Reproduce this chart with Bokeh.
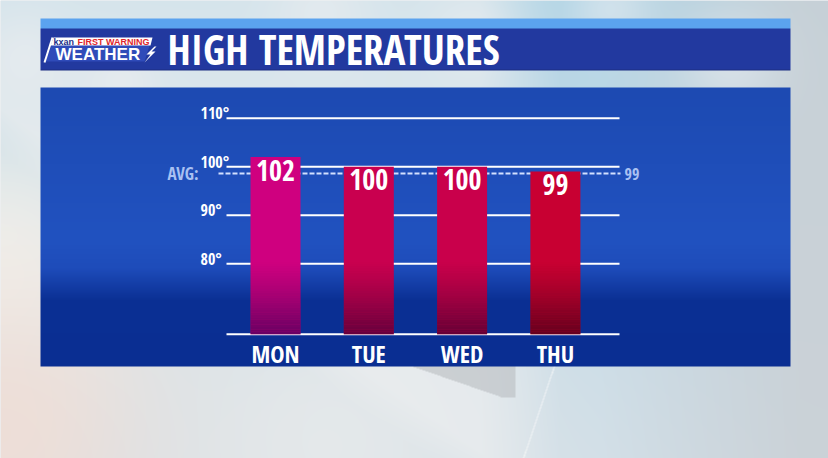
import numpy as np
from bokeh.plotting import figure
from bokeh.models import Range1d, ColumnDataSource
from bokeh.core.properties import value
from bokeh.embed import file_html
from bokeh.resources import INLINE

days = ["MON", "TUE", "WED", "THU"]
highs = [102, 100, 100, 99]
avg_high = 98.6
y_ticks = [80, 90, 100, 110]
tick_labels = ["80°", "90°", "100°", "110°"]
chart_floor = 65.5
title_text = "HIGH TEMPERATURES"
bar_top_colors = ["#cf007f", "#c9004f", "#c9004b", "#c80032"]
bar_shade_colors = ["#2a0050", "#2a0030", "#2a0028", "#2a0010"]

W, H = 828, 458
def X(rx):
    return rx
def Y(ry):
    return H - ry

NARROW = "'Open Sans Condensed', 'Roboto Condensed', Roboto, sans-serif"
BOLD = "'Liberation Sans', Arial, sans-serif"

p = figure(width=W, height=H, output_backend="svg", toolbar_location=None,
           x_range=Range1d(0, W), y_range=Range1d(0, H),
           x_axis_location=None, y_axis_location=None, min_border=0,
           outline_line_color=None)
p.grid.visible = False
p.background_fill_color = "#dde1e6"
p.border_fill_color = "#dde1e6"

p.extra_x_ranges = {"day": Range1d((0 - 275) / 93.3, (W - 275) / 93.3)}
p.extra_y_ranges = {"temp": Range1d(110 - (H - 117.7) / 4.855, 110 + 117.7 / 4.855)}

def mix(img, col, w):
    w = np.clip(w, 0, 1)[..., None]
    return img * (1 - w) + np.array(col, float) * w

def blob(Xg, Yg, cx, cy, r):
    return np.exp(-(((Xg - cx) ** 2 + (Yg - cy) ** 2) / (2.0 * r * r)))

ys = np.arange(0, H) + 0.5
xs = np.arange(0, W) + 0.5
Xg, Yg = np.meshgrid(xs, ys)
img = np.zeros(Xg.shape + (3,))
for c, (a, b, d) in enumerate(zip([176, 212, 229], [190, 216, 230], [208, 222, 231])):
    img[..., c] = np.interp(Yg, [0, 130, 458], [a, b, d])
img = mix(img, (202, 208, 213), np.clip((Xg - 600) / 200, 0, 1) * 0.85)
img = mix(img, (237, 237, 236), blob(Xg, Yg, 330, 430, 140) * 0.7)
img = mix(img, (244, 243, 238), blob(Xg, Yg, 0, 270, 110) * 0.9)
img = mix(img, (240, 222, 214), blob(Xg, Yg, 0, 430, 110) * 0.9)
for cx, cy, r in [(25, 55, 30), (320, 12, 35), (470, 35, 30), (610, 8, 30), (120, 78, 25), (730, 60, 35)]:
    img = mix(img, (232, 236, 241), blob(Xg, Yg, cx, cy, r) * 0.55)
diag = ((Xg - 300) - (Yg - 366) * 1.4)
img = mix(img, (238, 239, 240), np.clip(diag / 60, 0, 1) * np.clip((560 - Xg) / 80, 0, 1) * 0.6)
plate = (Xg < 515) & (Yg > 366) & (Yg < 397) & ((Xg - 412) > (Yg - 366) * 2.9)
img[plate] = img[plate] * 0.4 + np.array([185, 189, 193]) * 0.6
streak = np.abs((Xg - 554) + (Yg - 366) * (31 / 92)) < 0.7
img[streak & (Yg > 366)] = img[streak & (Yg > 366)] * 0.4 + np.array([248, 249, 250]) * 0.6

in_x = (Xg >= 40) & (Xg < 790)
img[in_x & (Yg >= 18) & (Yg < 28.5)] = (91, 163, 239)
img[in_x & (Yg >= 28.5) & (Yg < 70.5)] = (34, 57, 159)
img[in_x & (Yg >= 69) & (Yg < 70.5)] = (28, 46, 130)
pan = in_x & (Yg >= 87) & (Yg < 366.5)
stops_y = [87, 240, 268, 300, 366]
for c, vals in enumerate([[29, 33, 30, 11, 10], [74, 82, 76, 48, 46], [178, 192, 186, 148, 146]]):
    img[..., c] = np.where(pan, np.interp(Yg, stops_y, vals), img[..., c])

rgba = np.empty(Xg.shape + (4,), dtype=np.uint8)
rgba[..., :3] = np.clip(img, 0, 255).astype(np.uint8)
rgba[..., 3] = 255
bg = rgba[::-1].copy().view(dtype=np.uint32).reshape(Xg.shape)
p.image_rgba(image=[bg], x=0, y=0, dw=W, dh=H)

# logo
p.patch([X(51), X(149), X(144), X(45)], [Y(45), Y(45), Y(61), Y(61)],
        fill_color="#3553c4", fill_alpha=0.7, line_color=None)
p.patch([X(53), X(152), X(150), X(50)], [Y(37), Y(37), Y(45), Y(45)],
        fill_color="white", line_color=None)
p.line([X(44), X(52)], [Y(62), Y(37)], line_color="white", line_width=2)
p.text(x=[X(53)], y=[Y(41.5)], text=["kxan"], text_font=value(BOLD), text_font_style="bold",
       text_font_size="9px", text_color="#1b2f8a", text_baseline="middle")
p.text(x=[X(77)], y=[Y(41.5)], text=["FIRST WARNING"], text_font=value(BOLD), text_font_style="bold",
       text_font_size="9px", text_color="#e0252b", text_baseline="middle")
p.text(x=[X(55)], y=[Y(53.5)], text=["WEATHER"], text_font=value(BOLD), text_font_style="bold",
       text_font_size="17px", text_color="white", text_baseline="middle")
p.patch([X(154), X(146), X(150), X(144), X(155), X(151), X(156)],
        [Y(46), Y(54), Y(54), Y(62), Y(51), Y(51), Y(46)],
        fill_color="white", line_color=None)

p.text(x=[X(167)], y=[Y(48.5)], text=[title_text], text_font=value(NARROW), text_font_style="bold",
       text_font_size="41px", text_color="white", text_baseline="middle")

# chart
grid_x0, grid_x1 = (226 - 275) / 93.3, (619 - 275) / 93.3
p.segment(x0=grid_x0, x1=grid_x1, y0=y_ticks + [chart_floor], y1=y_ticks + [chart_floor],
          x_range_name="day", y_range_name="temp", line_color="white", line_width=2)
p.segment(x0=[(218 - 275) / 93.3], x1=[(620 - 275) / 93.3], y0=[avg_high], y1=[avg_high],
          x_range_name="day", y_range_name="temp", line_color="#d3e0ff", line_width=2,
          line_dash="5 2")

p.text(x=X(200), y=y_ticks, text=tick_labels, y_range_name="temp", y_offset=-5,
       text_font=value(NARROW), text_font_style="bold", text_font_size="16px",
       text_color="white", text_align="left", text_baseline="middle")
p.text(x=[X(198)], y=[avg_high], text=["AVG:"], y_range_name="temp",
       text_font=value(NARROW), text_font_style="bold", text_font_size="17px",
       text_color="#a9c1f2", text_align="right", text_baseline="middle")
p.text(x=[X(624)], y=[avg_high], text=[str(int(round(avg_high)))], y_range_name="temp",
       text_font=value(NARROW), text_font_style="bold", text_font_size="16px",
       text_color="#a9c1f2", text_align="left", text_baseline="middle")

idx = list(range(len(days)))
src = ColumnDataSource(dict(x=idx, top=highs, bottom=[chart_floor] * len(days),
                            color=bar_top_colors, label=[str(v) for v in highs], day=days))
bar_w = 50 / 93.3
p.vbar(x="x", top="top", bottom="bottom", width=bar_w, fill_color="color", line_color=None,
       source=src, x_range_name="day", y_range_name="temp")

n_sl, shade_h = 30, 15.0
for i in idx:
    bots = [chart_floor + shade_h * k / n_sl for k in range(n_sl)]
    tops = [chart_floor + shade_h * (k + 1) / n_sl for k in range(n_sl)]
    alphas = [0.62 * (1 - (k + 0.5) / n_sl) ** 1.2 for k in range(n_sl)]
    p.vbar(x=[i] * n_sl, bottom=bots, top=tops, width=bar_w, fill_color=bar_shade_colors[i],
           fill_alpha=alphas, line_color=None, x_range_name="day", y_range_name="temp")

p.text(x="x", y="top", text="label", source=src, x_range_name="day", y_range_name="temp",
       y_offset=13, text_font=value(NARROW), text_font_style="bold", text_font_size="28px",
       text_color="white", text_align="center", text_baseline="middle")
p.text(x="x", y="bottom", text="day", source=src, x_range_name="day", y_range_name="temp",
       y_offset=19, text_font=value(NARROW), text_font_style="bold", text_font_size="24px",
       text_color="white", text_align="center", text_baseline="middle")

open("out.html", "w").write(file_html(p, INLINE))
